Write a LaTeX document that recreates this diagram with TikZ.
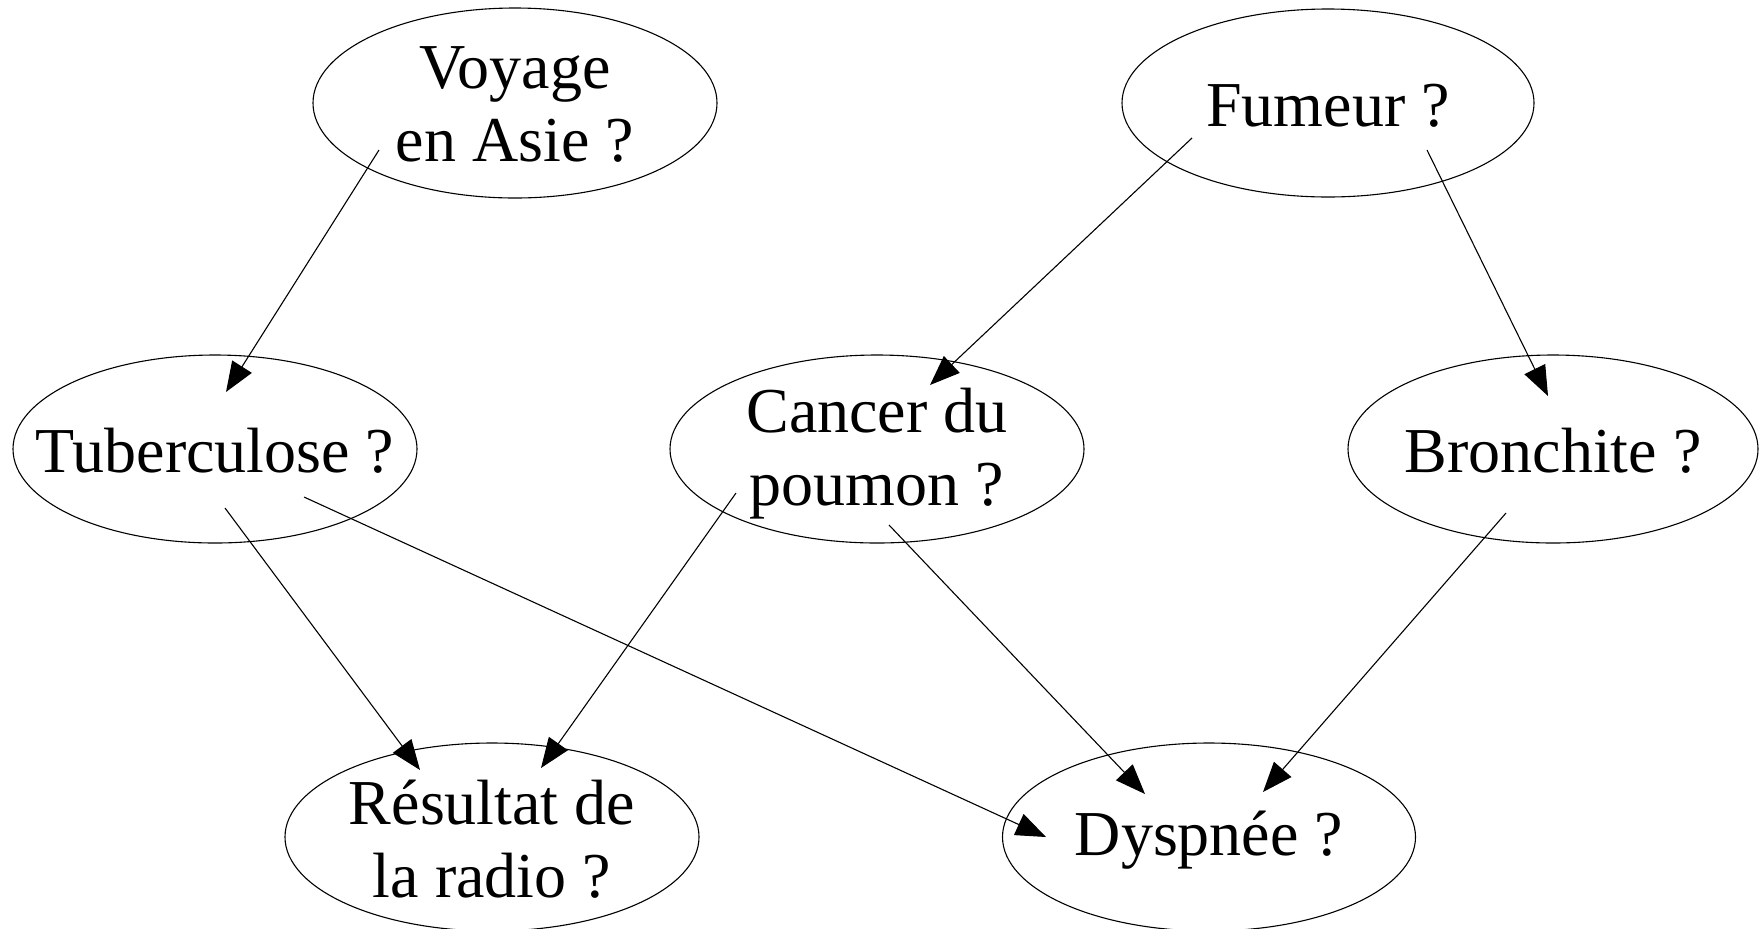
\documentclass[tikz,border=0pt]{standalone}
\usepackage{fontspec}
\setmainfont{Liberation Serif}
\usetikzlibrary{shapes.geometric,arrows.meta}
\begin{document}
\begin{tikzpicture}[x=0.5pt,y=-0.5pt,
  bubble/.style={draw=black, line width=0.55pt, ellipse, inner sep=0pt, minimum height=94pt},
  txt/.style={align=center, inner sep=0pt, font=\fontsize{32}{36.5}\selectfont},
  arr/.style={draw=black, line width=0.55pt, -{Triangle[length=15pt,width=11.5pt]}}]
\useasboundingbox (0,0) rectangle (1760,928);
\node[bubble, minimum width=202pt, minimum height=95pt] (voyage) at (515,103) {};
\node[txt] (voyaget) at ([yshift=-0.5pt]voyage.center) {Voyage\\en Asie ?};
\node[bubble, minimum width=206pt] (fumeur) at (1328,103) {};
\node[txt] (fumeurt) at ([yshift=-1.2pt]fumeur.center) {Fumeur ?};
\node[bubble, minimum width=202pt] (tub) at (215,449) {};
\node[txt] (tubt) at ([yshift=-1pt]tub.center) {Tuberculose ?};
\node[bubble, minimum width=207pt] (cancer) at (877,449) {};
\node[txt] (cancert) at ([yshift=-2.5pt]cancer.center) {Cancer du\\poumon ?};
\node[bubble, minimum width=205pt] (bronch) at (1553,449) {};
\node[txt] (broncht) at ([yshift=-1pt]bronch.center) {Bronchite ?};
\node[bubble, minimum width=207pt] (radio) at (492,837) {};
\node[txt] (radiot) at ([yshift=-1pt]radio.center) {Résultat de\\la radio ?};
\node[bubble, minimum width=206.5pt] (dysp) at (1209,837) {};
\node[txt] (dyspt) at ([yshift=-1.5pt]dysp.center) {Dyspnée ?};
\draw[arr] ([shift={(-136,47)}]voyage.center) -- ([shift={(11,-57)}]tub.center);
\draw[arr] ([shift={(-136,35)}]fumeur.center) -- ([shift={(53,-64)}]cancer.center);
\draw[arr] ([shift={(99,47)}]fumeur.center) -- ([shift={(-5,-53)}]bronch.center);
\draw[arr] ([shift={(10,59)}]tub.center) -- ([shift={(-72,-67)}]radio.center);
\draw[arr] ([shift={(89,48)}]tub.center) -- ([shift={(-163,0)}]dysp.center);
\draw[arr] ([shift={(-141,44)}]cancer.center) -- ([shift={(49,-69)}]radio.center);
\draw[arr] ([shift={(12,76)}]cancer.center) -- ([shift={(-64,-43)}]dysp.center);
\draw[arr] ([shift={(-47,64)}]bronch.center) -- ([shift={(54,-45)}]dysp.center);
\end{tikzpicture}
\end{document}
